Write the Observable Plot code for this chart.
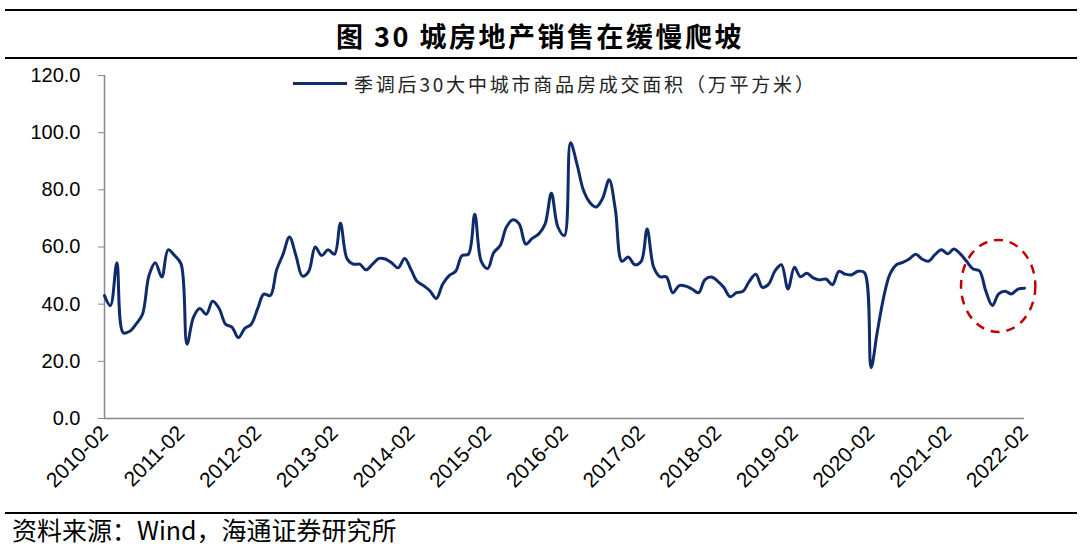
<!DOCTYPE html>
<html>
<head>
<meta charset="utf-8">
<script src="https://cdn.jsdelivr.net/npm/d3@7"></script>
<script src="https://cdn.jsdelivr.net/npm/@observablehq/plot@0.6"></script>
<style>
  html, body { margin: 0; padding: 0; background: #fff; }
  #page { position: relative; width: 1080px; height: 550px; overflow: hidden; background: #fff; }
  .rule { position: absolute; left: 5px; width: 1072px; height: 2px; background: #000; }
  #title { position: absolute; left: 0; width: 1080px; top: 19px; text-align: center;
           font-family: "Noto Sans CJK SC", sans-serif; font-weight: 700; font-size: 27px;
           line-height: 34px; letter-spacing: 2.5px; color: #000; }
  #chart { position: absolute; left: 0; top: 60px; }
  #legend { position: absolute; left: 293px; top: 70px; display: flex; align-items: center;
            font-family: "Noto Sans CJK SC", sans-serif; font-size: 19px; letter-spacing: 2.8px; color: #222; }
  #legend .swatch { width: 54px; height: 3px; margin-right: 7px; }
  #source { position: absolute; left: 12px; top: 513px; font-family: "Noto Sans CJK SC", sans-serif;
            font-size: 25px; line-height: 32px; color: #000; }
</style>
</head>
<body>
<div id="page">
  <div class="rule" style="top:9px"></div>
  <div id="title"></div>
  <div class="rule" style="top:57px"></div>
  <div id="chart"></div>
  <div id="legend"><span class="swatch"></span><span id="legendText"></span></div>
  <div class="rule" style="top:512px"></div>
  <div id="source"></div>
</div>
<script>
// ---- data ----
const titleText = "图 30 城房地产销售在缓慢爬坡";
const seriesName = "季调后30大中城市商品房成交面积（万平方米）";
const sourceText = "资料来源：Wind，海通证券研究所";
const startMonth = "2010-02";
// monthly values, 2010-02 .. 2022-02
const areaValues = [
  43, 39.5, 54.5, 30, 30.5, 33, 36.5, 50, 54.5, 49.5, 59, 57,
  54, 26, 35.5, 38.5, 36.5, 41, 38.5, 33, 32, 28.3, 31.5, 33,
  38.5, 43.5, 43, 52, 57.5, 63.5, 57, 49.8, 51.5, 60, 57, 59,
  57.5, 68.3, 56, 54, 54, 52, 54, 56, 55.8, 54.4, 52.7, 56,
  52, 48, 46.5, 44.7, 42, 47, 50, 51.5, 57, 57.5, 71.5, 55,
  52.5, 58, 60.5, 67, 69.5, 68, 61, 63, 64.5, 68, 78.8, 67,
  64, 96.5, 89, 80, 75.6, 74, 77, 83.5, 73, 55, 56.5, 53.8,
  55, 66.3, 53, 49.6, 49.5, 44, 46.5, 46.3, 45.3, 44, 48.5, 49.5,
  48, 45.9, 42.6, 44, 44.5, 48, 50.5, 45.9, 47, 51.7, 53.8, 45.3,
  52.9, 49.6, 50.8, 49.2, 48.5, 48.8, 46.8, 51.5, 50.5, 50.3, 51.5, 51,
  17.8, 30, 42.4, 50.5, 53.8, 54.6, 55.8, 57.5, 55.8, 55, 57.3, 59,
  57.6, 59.3, 57.6, 55, 52.3, 51.7, 44.5, 39.5, 43.6, 44.5, 43.6, 45.3,
  45.6
];
const xTickLabels = ["2010-02","2011-02","2012-02","2013-02","2014-02","2015-02","2016-02",
                     "2017-02","2018-02","2019-02","2020-02","2021-02","2022-02"];
const yTicks = [0, 20, 40, 60, 80, 100, 120];
// dashed highlight ellipse: centre (month, value) and radii (months, value units)
const highlightCenter = ["2021-10", 46.2];
const highlightRadius = [5.8, 16.1];

// ---- build ----
const parse = d3.utcParse("%Y-%m");
const start = parse(startMonth);
const data = areaValues.map((v, i) => ({date: d3.utcMonth.offset(start, i), value: v}));
const lineColor = "#0f2b69";

document.getElementById("title").textContent = titleText;
document.getElementById("legendText").textContent = seriesName;
document.querySelector("#legend .swatch").style.background = lineColor;
document.getElementById("source").textContent = sourceText;

const axisFont = "'Liberation Sans', Arial, sans-serif";
const plot = Plot.plot({
  width: 1080,
  height: 446,
  marginLeft: 104,
  marginRight: 56,
  marginTop: 15,
  marginBottom: 88,
  style: {fontFamily: axisFont, fontSize: "20px", color: "#000", background: "transparent", overflow: "visible"},
  x: {type: "utc", domain: [start, parse(xTickLabels[xTickLabels.length - 1])]},
  y: {domain: [0, 120]},
  marks: [
    Plot.axisY({ticks: yTicks, tickFormat: d => d.toFixed(1), tickSize: 6, tickPadding: 18,
                stroke: "#888", fill: "#000", fontSize: 20, fontFamily: axisFont, label: null}),
    Plot.axisX({ticks: xTickLabels.map(parse), tickFormat: d3.utcFormat("%Y-%m"), tickRotate: -45,
                tickSize: 0, tickPadding: 11, fill: "#000", fontSize: 21, fontFamily: axisFont, label: null}),
    Plot.ruleY([0], {stroke: "#888", strokeWidth: 1.5}),
    Plot.ruleX([start], {stroke: "#888", strokeWidth: 1.5}),
    Plot.line(data, {x: "date", y: "value", stroke: lineColor, strokeWidth: 3, curve: "catmull-rom"})
  ]
});

// highlight ellipse positioned via the plot scales
const sx = plot.scale("x"), sy = plot.scale("y");
const cDate = parse(highlightCenter[0]);
const cx = sx.apply(cDate), cy = sy.apply(highlightCenter[1]);
const rx = Math.abs(sx.apply(d3.utcDay.offset(cDate, Math.round(highlightRadius[0] * 30.44))) - cx);
const ry = Math.abs(sy.apply(highlightCenter[1] + highlightRadius[1]) - cy);
d3.select(plot).append("ellipse")
  .attr("cx", cx).attr("cy", cy).attr("rx", rx).attr("ry", ry)
  .attr("fill", "none").attr("stroke", "#c00000").attr("stroke-width", 2.5)
  .attr("stroke-dasharray", "9,7");

document.getElementById("chart").appendChild(plot);
</script>
</body>
</html>
